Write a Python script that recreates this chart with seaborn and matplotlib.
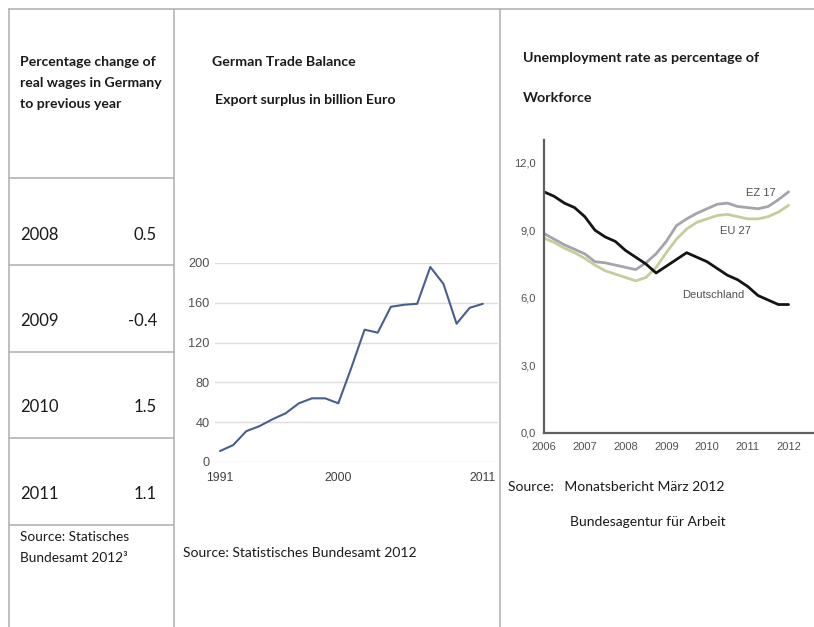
import numpy as np
import pandas as pd
import matplotlib
matplotlib.use("Agg")
import matplotlib.pyplot as plt
from matplotlib.lines import Line2D
import seaborn as sns

# ---------------- data ----------------
wage_years = ["2008", "2009", "2010", "2011"]
wage_changes = ["0.5", "-0.4", "1.5", "1.1"]

trade_years = list(range(1991, 2012))
trade_surplus = [11, 17, 31, 36, 43, 49, 59, 64, 64, 59, 95, 133, 130, 156, 158, 159,
                 196, 179, 139, 155, 159]
trade_xticks = [1991, 2000, 2011]
trade_yticks = [0, 40, 80, 120, 160, 200]

unemp_time = [2006.00, 2006.25, 2006.50, 2006.75, 2007.00, 2007.25, 2007.50, 2007.75,
              2008.00, 2008.25, 2008.50, 2008.75, 2009.00, 2009.25, 2009.50, 2009.75,
              2010.00, 2010.25, 2010.50, 2010.75, 2011.00, 2011.25, 2011.50, 2011.75,
              2012.00]
unemp_de = [10.7, 10.5, 10.2, 10.0, 9.6, 9.0, 8.7, 8.5, 8.1, 7.8, 7.5, 7.1, 7.4, 7.7,
            8.0, 7.8, 7.6, 7.3, 7.0, 6.8, 6.5, 6.1, 5.9, 5.7, 5.7]
unemp_ez17 = [8.85, 8.6, 8.35, 8.15, 7.95, 7.6, 7.55, 7.45, 7.35, 7.25, 7.55, 7.95, 8.5,
              9.2, 9.5, 9.75, 9.95, 10.15, 10.2, 10.05, 10.0, 9.95, 10.05, 10.35, 10.7]
unemp_eu27 = [8.65, 8.45, 8.2, 8.0, 7.75, 7.45, 7.2, 7.05, 6.9, 6.75, 6.9, 7.35, 8.0, 8.6,
              9.05, 9.35, 9.5, 9.65, 9.7, 9.6, 9.5, 9.5, 9.6, 9.8, 10.1]
unemp_series = ["Deutschland", "EZ 17", "EU 27"]
unemp_xticks = [2006, 2007, 2008, 2009, 2010, 2011, 2012]
unemp_yticks = [0, 3, 6, 9, 12]

# ---------------- figure ----------------
sns.set_theme(style="white")
plt.rcParams["font.family"] = ["Lato", "DejaVu Sans"]

W, H = 814, 627
fig = plt.figure(figsize=(W / 100, H / 100), dpi=100)
fig.patch.set_facecolor("white")


def fx(x):
    return x / W


def fy(y):
    return 1 - y / H


def hline(y, x0, x1):
    fig.add_artist(Line2D([fx(x0), fx(x1)], [fy(y), fy(y)], color="#b4b4b4", lw=1.2))


def vline(x, y0, y1):
    fig.add_artist(Line2D([fx(x), fx(x)], [fy(y0), fy(y1)], color="#b4b4b4", lw=1.2))


# table borders
hline(9, 9, 814)
for y in [178, 265, 352, 438, 525]:
    hline(y, 9, 174)
for x in [9, 174, 500]:
    vline(x, 9, 627)

# left column texts
doc = dict(color="#1a1a1a", family=["Lato", "DejaVu Sans"])
for i, line in enumerate(["Percentage change of", "real wages in Germany", "to previous year"]):
    fig.text(fx(20), fy(62 + 21 * i), line, fontsize=10.1, fontweight="bold", va="center", **doc)
row_y = [235, 321, 407, 494]
for yr, val, y in zip(wage_years, wage_changes, row_y):
    fig.text(fx(20), fy(y), yr, fontsize=12, va="center", **doc)
    fig.text(fx(157), fy(y), val, fontsize=12, va="center", ha="right", **doc)
fig.text(fx(20), fy(537), "Source: Statisches", fontsize=9.8, va="center", **doc)
fig.text(fx(20), fy(558), "Bundesamt 2012³", fontsize=9.8, va="center", **doc)

# middle texts
fig.text(fx(212), fy(62), "German Trade Balance", fontsize=10.2, fontweight="bold", va="center", **doc)
fig.text(fx(215), fy(100), "Export surplus in billion Euro", fontsize=10.2, fontweight="bold", va="center", **doc)
fig.text(fx(183), fy(553), "Source: Statistisches Bundesamt 2012", fontsize=10, va="center", **doc)

# right texts
fig.text(fx(523), fy(58), "Unemployment rate as percentage of", fontsize=10.3, fontweight="bold", va="center", **doc)
fig.text(fx(523), fy(98), "Workforce", fontsize=10.3, fontweight="bold", va="center", **doc)
fig.text(fx(508), fy(487), "Source:   Monatsbericht März 2012", fontsize=10, va="center", **doc)
fig.text(fx(570), fy(522), "Bundesagentur für Arbeit", fontsize=10, va="center", **doc)

# ---------------- middle chart ----------------
l, r, t, b = 215, 498, 263, 462
ax1 = fig.add_axes([fx(l), fy(b), fx(r - l), (b - t) / H])
df_trade = pd.DataFrame({"year": trade_years, "surplus": trade_surplus})
sns.lineplot(data=df_trade, x="year", y="surplus", ax=ax1, color="#4a5e8e", lw=1.5)
ax1.set_xlim(1990.62, 2012.15)
ax1.set_ylim(0, 200)
ax1.set_xlabel("")
ax1.set_ylabel("")
for s in ax1.spines.values():
    s.set_visible(False)
for v in trade_yticks:
    ax1.axhline(v, color="#dcdcdc", lw=1.0, zorder=0)
ax1.set_yticks(trade_yticks)
ax1.set_xticks(trade_xticks)
ax1.set_xticks(trade_years, minor=True)
ax1.tick_params(axis="y", length=0, pad=4, labelsize=9.2, labelcolor="#505050")
ax1.tick_params(axis="x", which="major", length=4, color="#c8c8c8", pad=3,
                labelsize=8.8, labelcolor="#404040")
ax1.tick_params(axis="x", which="minor", length=4, color="#c8c8c8")
for lab in ax1.get_xticklabels() + ax1.get_yticklabels():
    lab.set_family(["Liberation Sans", "DejaVu Sans"])
ax1.set_facecolor("none")

# ---------------- right chart ----------------
l, r, t, b = 544, 813, 140, 433
ax2 = fig.add_axes([fx(l), fy(b), fx(r - l), (b - t) / H])
df_u = pd.DataFrame({
    "t": unemp_time * 3,
    "rate": unemp_ez17 + unemp_eu27 + unemp_de,
    "series": ["EZ 17"] * len(unemp_time) + ["EU 27"] * len(unemp_time) + ["Deutschland"] * len(unemp_time),
})
palette = {"Deutschland": "#141414", "EZ 17": "#a4a4ac", "EU 27": "#c8cc9c"}
sns.lineplot(data=df_u, x="t", y="rate", hue="series", palette=palette, ax=ax2,
             lw=2.0, legend=False)
ax2.set_xlim(2006, 2012.6)
ax2.set_ylim(0, 13)
ax2.set_xlabel("")
ax2.set_ylabel("")
ax2.spines["top"].set_visible(False)
ax2.spines["right"].set_visible(False)
for s in ["left", "bottom"]:
    ax2.spines[s].set_color("#606060")
    ax2.spines[s].set_linewidth(1.6)
ax2.set_xticks(unemp_xticks)
ax2.set_yticks(unemp_yticks)
ax2.set_yticklabels([f"{v:.1f}".replace(".", ",") for v in unemp_yticks])
ax2.tick_params(axis="y", length=3, width=1, color="#404040", direction="out", pad=3,
                labelsize=8, labelcolor="#505050")
ax2.tick_params(axis="x", length=5, width=1, color="#404040", direction="inout", pad=4,
                labelsize=8, labelcolor="#505050")
for lab in ax2.get_xticklabels() + ax2.get_yticklabels():
    lab.set_family(["Liberation Sans", "DejaVu Sans"])
ax2.set_facecolor("none")
lab_kw = dict(fontsize=8, color="#505050", family=["Liberation Sans", "DejaVu Sans"], va="center")
ax2.text(2010.95, 10.65, "EZ 17", **lab_kw)
ax2.text(2010.31, 8.98, "EU 27", **lab_kw)
ax2.text(2009.4, 6.12, "Deutschland", **lab_kw)

fig.savefig("out.png", dpi=100, facecolor="white")
